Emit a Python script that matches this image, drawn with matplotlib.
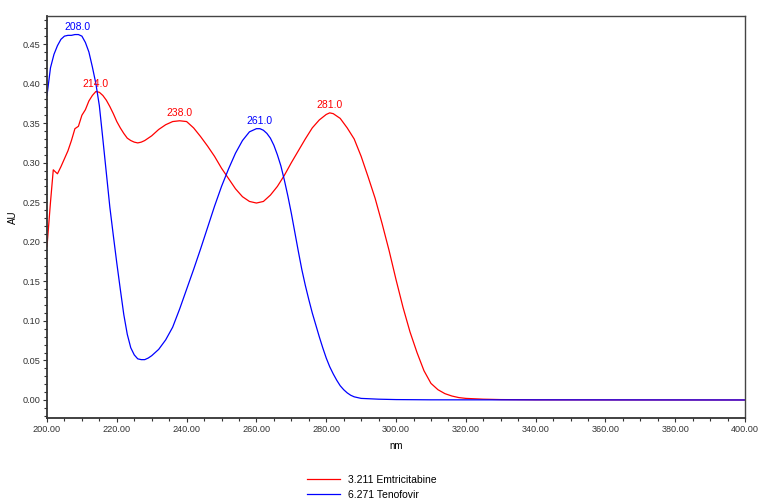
import numpy as np
import matplotlib
matplotlib.use('Agg')
import matplotlib.pyplot as plt
from matplotlib.ticker import MultipleLocator, FormatStrFormatter

plt.rcParams['font.family'] = ['Liberation Sans', 'DejaVu Sans']

# Emtricitabine (3.211) spectrum
emtNm = [200, 201, 201.8, 202.5, 203, 204, 205, 206, 207, 208, 209, 210, 211, 212, 213,
         214, 215, 216, 217, 218, 219, 220, 221, 222, 223, 224, 225, 226, 227, 228,
         230, 232, 234, 236, 238, 240, 242, 244, 246, 248, 250, 252, 254, 256, 258,
         260, 262, 264, 266, 268, 270, 272, 274, 276, 278, 280, 281, 282, 284, 286,
         288, 290, 292, 294, 296, 298, 300, 302, 304, 306, 308, 310, 312, 314, 316,
         318, 320, 325, 330, 340, 360, 400]
emtAu = [0.194, 0.250, 0.291, 0.288, 0.286, 0.295, 0.305, 0.315, 0.328, 0.343, 0.346,
         0.360, 0.367, 0.378, 0.385, 0.390, 0.389, 0.385, 0.379, 0.371, 0.362, 0.352,
         0.344, 0.337, 0.331, 0.328, 0.326, 0.325, 0.326, 0.328, 0.334, 0.342, 0.348,
         0.352, 0.353, 0.352, 0.344, 0.333, 0.321, 0.308, 0.293, 0.280, 0.267, 0.257,
         0.251, 0.249, 0.251, 0.259, 0.270, 0.284, 0.300, 0.315, 0.330, 0.344, 0.354,
         0.361, 0.363, 0.362, 0.356, 0.344, 0.330, 0.308, 0.282, 0.255, 0.223, 0.189,
         0.152, 0.117, 0.086, 0.060, 0.037, 0.021, 0.013, 0.008, 0.005, 0.003, 0.002,
         0.001, 0.0005, 0.0002, 0.0001, 0.0]

# Tenofovir (6.271) spectrum
tenNm = [200, 201, 202, 203, 204, 205, 206, 207, 208, 209, 210, 211, 212, 213, 214,
         215, 216, 217, 218, 219, 220, 221, 222, 223, 224, 225, 226, 227, 228, 229,
         230, 232, 234, 236, 238, 240, 242, 244, 246, 248, 250, 252, 254, 256, 258,
         260, 261, 262, 263, 264, 265, 266, 267, 268, 269, 270, 271, 272, 273, 274,
         275, 276, 277, 278, 279, 280, 281, 282, 283, 284, 285, 286, 287, 288, 290,
         295, 300, 310, 400]
tenAu = [0.385, 0.420, 0.437, 0.448, 0.456, 0.460, 0.461, 0.461, 0.462, 0.462, 0.460,
         0.452, 0.440, 0.421, 0.400, 0.372, 0.330, 0.287, 0.244, 0.208, 0.173, 0.140,
         0.108, 0.083, 0.066, 0.057, 0.052, 0.051, 0.051, 0.053, 0.056, 0.064, 0.076,
         0.092, 0.115, 0.140, 0.165, 0.191, 0.218, 0.245, 0.270, 0.292, 0.312, 0.328,
         0.339, 0.343, 0.343, 0.341, 0.337, 0.331, 0.322, 0.310, 0.296, 0.278, 0.258,
         0.236, 0.212, 0.188, 0.165, 0.145, 0.127, 0.110, 0.095, 0.080, 0.066, 0.053,
         0.042, 0.033, 0.025, 0.018, 0.013, 0.009, 0.006, 0.004, 0.002, 0.001, 0.0005,
         0.0002, 0.0]

# peak labels: (wavelength, AU, series)
peaks = [(208.0, 0.462, 'ten'), (214.0, 0.390, 'emt'), (238.0, 0.353, 'emt'),
         (261.0, 0.343, 'ten'), (281.0, 0.363, 'emt')]

red = '#ff0000'
blue = '#0000ff'

fig = plt.figure(figsize=(7.58, 4.99), dpi=100)
ax = fig.add_axes([0.062, 0.1623, 0.921, 0.8057])

ax.plot(emtNm, emtAu, color=red, lw=0.9, label='3.211 Emtricitabine')
ax.plot(tenNm, tenAu, color=blue, lw=0.9, label='6.271 Tenofovir')

for nm, au, s in peaks:
	col = blue if s == 'ten' else red
	dx = 1.5 if nm == 208.0 else 0
	ax.annotate(f'{nm:.1f}', (nm, au), xytext=(dx, 2), textcoords='offset points',
	            ha='center', va='bottom', color=col, fontsize=7.5)

ax.set_xlim(200, 400)
ax.set_ylim(-0.0228, 0.4855)
ax.xaxis.set_major_locator(MultipleLocator(20))
ax.xaxis.set_minor_locator(MultipleLocator(5))
ax.yaxis.set_major_locator(MultipleLocator(0.05))
ax.yaxis.set_minor_locator(MultipleLocator(0.01))
ax.xaxis.set_major_formatter(FormatStrFormatter('%.2f'))
ax.yaxis.set_major_formatter(FormatStrFormatter('%.2f'))
ax.tick_params(which='major', direction='out', length=3, width=0.8, labelsize=6.6,
               colors='#333333', pad=2)
ax.tick_params(which='minor', direction='out', length=2, width=0.8, colors='#333333')
for side in ['left', 'bottom']:
	ax.spines[side].set_linewidth(1.3)
	ax.spines[side].set_color('#333333')
for side in ['top', 'right']:
	ax.spines[side].set_linewidth(1.0)
	ax.spines[side].set_color('#444444')

ax.set_xlabel('nm', fontsize=7, labelpad=5)
ax.set_ylabel('AU', fontsize=7, labelpad=3)

fig.legend(loc='upper left', bbox_to_anchor=(307 / 758, 1 - 475 / 499), frameon=False,
           fontsize=7.5, handlelength=3.2, handletextpad=0.75, labelspacing=0.45,
           borderpad=0, borderaxespad=0)

fig.savefig('out.png', dpi=100)
